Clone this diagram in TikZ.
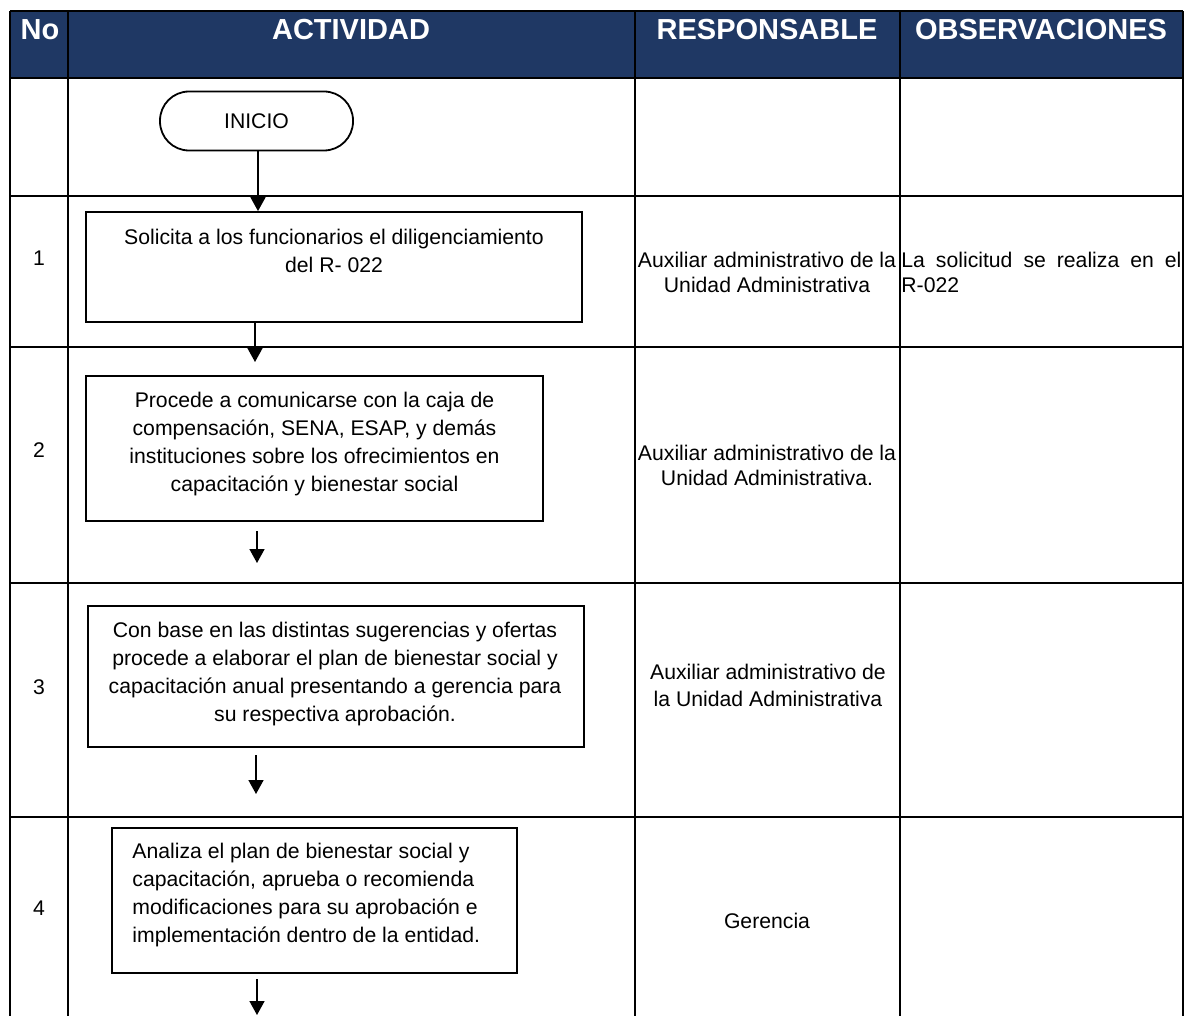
\documentclass[tikz,border=0pt]{standalone}
\usepackage{fontspec}
\setmainfont{Liberation Sans}
\usetikzlibrary{arrows.meta}
\definecolor{navy}{RGB}{31,56,100}
\tikzset{
  hdr/.style={text=white,font=\fontsize{14.5}{17}\selectfont\bfseries,inner sep=0pt},
  txt/.style={font=\fontsize{10.6}{14}\selectfont,inner sep=0pt,align=center},
  actbox/.style={draw,line width=0.9pt,inner sep=0pt},
  terminal/.style={draw,line width=0.9pt,rounded corners=14.5pt,minimum width=96.5pt,minimum height=29.5pt,font=\fontsize{10.6}{14}\selectfont},
  flow/.style={line width=0.8pt,-{Triangle[length=7pt,width=7.5pt]}}
}
\begin{document}
\begin{tikzpicture}[x=0.5pt,y=-0.5pt]
\useasboundingbox (0,0) rectangle (1186,1016);
\fill[navy] (10,11) rectangle (1183,78);
\draw[line width=1pt] (10,11) -- (1183,11);
\draw[line width=1pt] (10,78) -- (1183,78);
\draw[line width=1pt] (10,196) -- (1183,196);
\draw[line width=1pt] (10,347) -- (1183,347);
\draw[line width=1pt] (10,583) -- (1183,583);
\draw[line width=1pt] (10,817) -- (1183,817);
\draw[line width=1pt] (10,11) -- (10,1016);
\draw[line width=1pt] (68,11) -- (68,1016);
\draw[line width=1pt] (635,11) -- (635,1016);
\draw[line width=1pt] (900,11) -- (900,1016);
\draw[line width=1pt] (1183,11) -- (1183,1016);

\node[hdr] (hno) at (40,30) {No};
\node[hdr] (hact) at (351,30) {ACTIVIDAD};
\node[hdr] (hresp) at (767,30) {RESPONSABLE};
\node[hdr] (hobs) at (1041,30) {OBSERVACIONES};

\node[txt] (nro1) at (39,258) {1};
\node[txt] (nro2) at (39,450) {2};
\node[txt] (nro3) at (39,687) {3};
\node[txt] (nro4) at (39,908) {4};

\node[terminal] (inicio) at (256.5,121) {INICIO};

\node[actbox,minimum width=248pt,minimum height=55pt] (paso1) at (334,267) {};
\node[txt] (txt1) at (334,251) {Solicita a los funcionarios el diligenciamiento\\del R- 022};
\node[actbox,minimum width=228.5pt,minimum height=72.5pt] (paso2) at (314.5,448.5) {};
\node[txt] (txt2) at (314.5,444) {Procede a comunicarse con la caja de\\compensación, SENA, ESAP, y demás\\instituciones sobre los ofrecimientos en\\capacitación y bienestar social};
\node[actbox,minimum width=248pt,minimum height=70.5pt] (paso3) at (336,676.5) {};
\node[txt] (txt3) at (335,674) {Con base en las distintas sugerencias y ofertas\\procede a elaborar el plan de bienestar social y\\capacitación anual presentando a gerencia para\\su respectiva aprobación.};
\node[actbox,minimum width=202.5pt,minimum height=72.5pt] (paso4) at (314.5,900.5) {};
\node[txt,align=left,anchor=west] (txt4) at (132,895.5) {Analiza el plan de bienestar social y\\capacitación, aprueba o recomienda\\modificaciones para su aprobación e\\implementación dentro de la entidad.};

\node[txt,font=\fontsize{10.6}{12.5}\selectfont] (resp1) at (767,272.5) {Auxiliar administrativo de la\\Unidad Administrativa};
\node[txt,font=\fontsize{10.6}{12.5}\selectfont] (resp2) at (767,465.5) {Auxiliar administrativo de la\\Unidad Administrativa.};
\node[txt,font=\fontsize{10.6}{13.5}\selectfont] (resp3) at (768,685.5) {Auxiliar administrativo de\\la Unidad Administrativa};
\node[txt] (resp4) at (767,921) {Gerencia};
\node[txt,font=\fontsize{10.6}{12.5}\selectfont,text width=140pt,align=justify,anchor=west] (obs1) at (901,272.5) {La solicitud se realiza en el \mbox{R-022}};

\coordinate (fin1) at (255,362);
\coordinate (ini2) at (257,531);
\coordinate (fin2) at (257,563);
\coordinate (ini3) at (256,755);
\coordinate (fin3) at (256,794);
\coordinate (ini4) at (257,979);
\coordinate (fin4) at (257,1015);

\draw[flow] (258,0 |- inicio.south) -- (258,0 |- paso1.north);
\draw[flow] (fin1 |- paso1.south) -- (fin1);
\draw[flow] (ini2) -- (fin2);
\draw[flow] (ini3) -- (fin3);
\draw[flow] (ini4) -- (fin4);
\end{tikzpicture}
\end{document}
